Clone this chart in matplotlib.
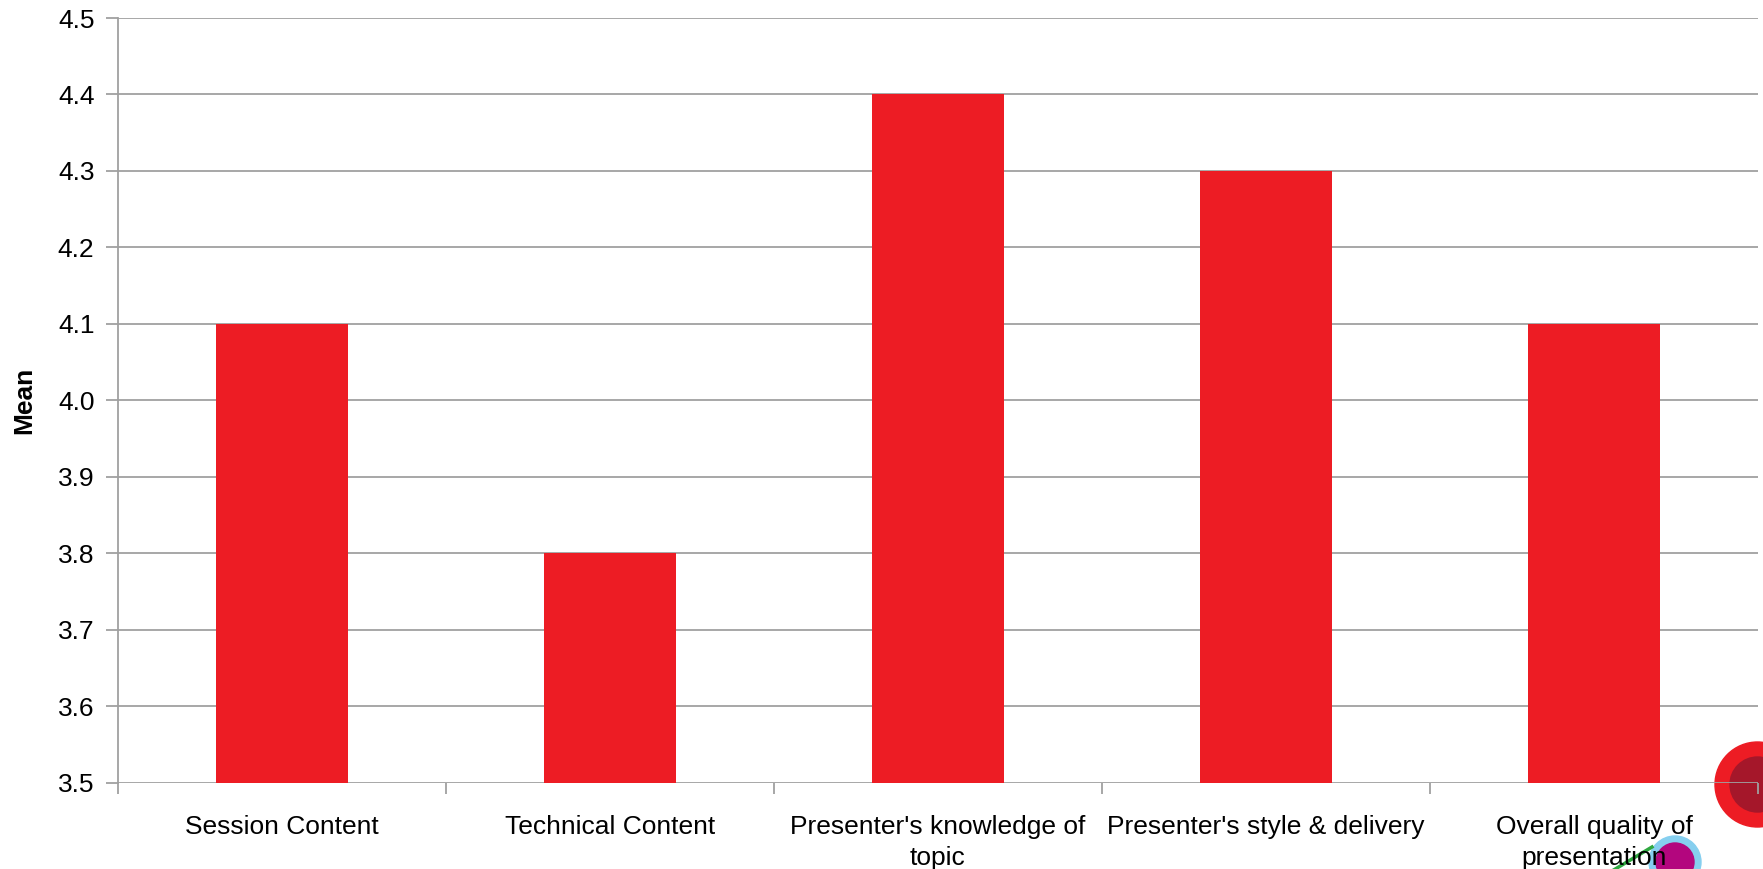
import matplotlib
matplotlib.use("Agg")
import matplotlib.pyplot as plt
from matplotlib.patches import Circle
from matplotlib.lines import Line2D
import numpy as np

plt.rcParams['font.family'] = ['Liberation Sans', 'DejaVu Sans']

categories = ["Session Content", "Technical Content", "Presenter's knowledge of\ntopic",
              "Presenter's style & delivery", "Overall quality of\npresentation"]
means = [4.1, 3.8, 4.4, 4.3, 4.1]
y_ticks = [3.5, 3.6, 3.7, 3.8, 3.9, 4.0, 4.1, 4.2, 4.3, 4.4, 4.5]

BAR_RED = "#ED1C24"
GRID = "#A0A0A0"

W, H, DPI = 1763, 869, 100
fig = plt.figure(figsize=(W / DPI, H / DPI), dpi=DPI, facecolor="white")

# decorative badges in the lower right corner, behind the chart
def px(x, y):
    return (x / DPI, (H - y) / DPI)

deco = [
    Circle(px(1757.5, 784.5), 42.5 / DPI, color=BAR_RED),
    Circle(px(1757.5, 784.5), 27.5 / DPI, color="#A5172A"),
    Circle(px(1675, 862), 26 / DPI, color="#86CFEF"),
    Circle(px(1675, 862), 19 / DPI, color="#B3067E"),
]
for c in deco:
    c.set_transform(fig.dpi_scale_trans)
    c.set_zorder(-2)
    fig.add_artist(c)
(x0, y0), (x1, y1) = px(1612, 871), px(1652, 847)
fig.add_artist(Line2D([x0, x1], [y0, y1], transform=fig.dpi_scale_trans,
                      color="#2FA840", lw=2.5, zorder=-2))

ax = fig.add_axes([118 / W, 1 - 782.7 / H, (1758 - 118) / W, (782.7 - 18) / H])
ax.set_facecolor("none")

x = np.arange(len(categories))
ax.bar(x, means, width=0.4, color=BAR_RED, zorder=3)

ax.set_ylim(3.5, 4.5)
ax.set_xlim(-0.5, len(categories) - 0.5)
ax.set_yticks(y_ticks)
ax.set_yticklabels([f"{v:.1f}" for v in y_ticks], fontsize=19)
ax.yaxis.grid(True, color=GRID, lw=1.3, zorder=0)
ax.set_axisbelow(True)

ax.set_xticks(np.arange(-0.5, len(categories)), labels=[""] * (len(categories) + 1))
ax.set_xticks(x, labels=categories, minor=True, linespacing=1.38)
ax.tick_params(axis="x", which="major", length=8, width=1.3, color=GRID)
ax.tick_params(axis="x", which="minor", length=0, pad=23, labelsize=19)
ax.tick_params(axis="y", length=9, width=1.3, color=GRID, pad=8)

for side in ("top", "right", "bottom"):
    ax.spines[side].set_visible(False)
ax.spines["left"].set_color(GRID)
ax.spines["left"].set_linewidth(1.3)

ax.set_ylabel("Mean", fontsize=19, fontweight="bold")
ax.yaxis.set_label_coords(-0.050, 0.5)

fig.savefig("out.png", dpi=DPI, facecolor="white")
